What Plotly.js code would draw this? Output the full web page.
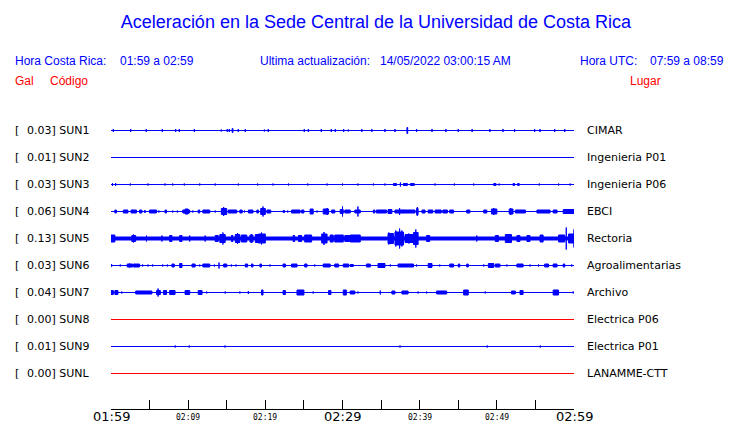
<!DOCTYPE html>
<html><head><meta charset="utf-8">
<script src="https://cdn.plot.ly/plotly-3.0.1.min.js"></script>
<style>html,body{margin:0;padding:0;background:#fff;}#chart{width:740px;height:423px;}</style>
</head><body><div id="chart"></div>
<script>
// ---------------- data ----------------
const codes  = ['SUN1','SUN2','SUN3','SUN4','SUN5','SUN6','SUN7','SUN8','SUN9','SUNL'];
const places = ['CIMAR','Ingenieria P01','Ingenieria P06','EBCI','Rectoria','Agroalimentarias','Archivo','Electrica P06','Electrica P01','LANAMME-CTT'];
const gals   = ['0.03','0.01','0.03','0.06','0.13','0.03','0.04','0.00','0.01','0.00'];
const tickMinutes = [0,10,20,30,40,50,60];
const tickLabels  = ['01:59','02:09','02:19','02:29','02:39','02:49','02:59'];
const minorTickMinutes = [0,5,10,15,20,25,30,35,40,45,50,55,60];

// bursts: [start minute, end minute, half-amplitude]
const SUN1_bursts = [[0.3,0.3,1.5],[2.55,2.55,1.5],[4.57,4.57,1.5],[6.65,6.65,1.5],[8.38,8.38,1.5],[8.85,8.85,1.5],[10.8,10.8,1.5],[14.29,14.29,1],[15.07,15.07,1.5],[15.33,15.33,1.5],[15.7,15.8,2],[16.49,16.49,1.5],[17.4,17.4,1.5],[19.87,19.87,1],[20.38,20.38,1.5],[25.05,25.05,1.5],[25.57,25.57,1.5],[27.25,27.25,1.5],[28.55,28.55,1.5],[29.07,29.07,1.5],[30.15,30.15,1.5],[30.75,30.75,1],[32.5,32.5,1.5],[33.8,33.8,1.5],[35.5,35.5,1.5],[36.8,36.8,1.5],[38.35,38.45,3],[39.6,39.6,1.5],[41.6,41.6,1.5],[43.4,43.4,1.5],[45.0,45.0,1.5],[46.8,46.8,1.5],[49.1,49.1,1.5],[50.8,50.8,1.5],[52.3,52.3,1.5],[54.9,54.9,1.5],[55.6,55.6,1.5],[57.5,57.5,1.5],[58.8,58.8,1.5]];
const SUN2_bursts = [];
const SUN3_bursts = [[0.2,0.2,1.5],[0.6,0.6,1.5],[2.5,2.5,1],[4.8,4.8,1],[7.0,7.0,1],[8.0,8.0,1],[9.5,9.5,1],[11.5,11.5,1],[13.5,13.5,1],[16.5,16.5,1],[19.0,19.0,1],[21.0,21.0,1],[23.0,23.0,1],[25.5,25.5,1],[28.0,28.0,1],[30.0,30.0,1],[32.0,32.0,1],[34.0,34.0,1],[35.5,35.5,1],[36.6,37.0,1],[37.5,37.5,2],[37.9,38.4,1],[38.8,39.3,1],[42.0,42.0,1],[44.5,44.5,1],[47.0,47.0,1],[49.6,49.9,1],[50.3,50.3,1],[52.1,52.3,1],[52.7,52.9,1],[55.5,55.5,1],[58.0,58.0,1],[59.5,59.5,1]];
const SUN4_bursts = [[0.5,0.7,1.5],[1.6,2.2,1.5],[2.6,3.3,1.5],[3.7,4.0,1.5],[4.4,4.4,1.5],[5.0,5.9,1.5],[6.2,6.2,1],[7.0,7.2,1.5],[8.0,8.0,1],[8.6,8.6,1],[9.3,10.2,1.5],[9.6,10.0,2.5],[10.6,10.6,1],[11.3,11.5,1.5],[11.9,12.8,1.5],[13.5,13.5,1],[14.3,15.0,3],[14.6,14.6,4.5],[15.2,16.3,1.5],[16.7,17.0,1.5],[17.3,17.3,1],[17.8,18.4,1.5],[18.9,19.1,1.5],[19.4,20.0,3],[19.7,19.7,5],[20.2,20.7,1.5],[22.3,22.5,1],[22.9,22.9,1],[23.4,24.5,1.5],[24.7,25.0,1.5],[25.8,26.2,2.5],[26.7,26.7,1],[27.5,28.2,2.5],[28.0,28.0,3.5],[28.6,29.0,1.5],[29.7,30.1,2],[30.0,30.0,5],[30.3,31.0,1.5],[31.6,32.3,1.5],[32.0,32.0,5],[34.0,34.2,1.5],[34.4,35.7,1.5],[35.9,36.4,2],[36.8,37.9,1.5],[37.4,37.4,3.5],[37.8,39.4,1.5],[39.6,39.8,3],[39.7,39.7,4.5],[40.3,40.7,1.5],[41.1,41.7,1.5],[42.0,42.8,1.5],[43.0,43.6,1.5],[43.9,44.4,1.5],[46.1,46.5,1.5],[48.3,48.7,1.5],[49.3,50.0,2.5],[49.6,49.6,3.5],[51.6,52.1,2.5],[51.8,51.8,3.5],[52.4,53.7,1.5],[55.2,56.9,1.5],[57.3,57.8,1.5],[58.6,60,2]];
const SUN5_bursts = [[0,0.5,3.5],[2.7,3.2,3],[2.9,2.9,4],[4.6,4.6,3],[6.6,6.6,3],[7.6,7.9,3],[8.9,9.2,3],[10.2,10.2,3],[12.2,12.2,3],[13.5,13.9,3],[14.1,14.8,4],[14.5,14.5,6],[15.6,15.8,3],[16.1,16.7,4],[16.4,16.4,5.5],[16.9,17.6,3.5],[18.0,18.4,3.5],[18.2,18.2,4.5],[18.7,19.1,4],[19.1,20.0,4.5],[19.5,19.5,6],[23.6,23.8,3],[24.3,24.7,3],[25.1,26.0,3.5],[27.3,28.0,4.5],[27.6,27.6,6.5],[28.4,28.8,3.5],[29.0,30.1,3.5],[30.3,31.0,3],[31.0,32.3,3.5],[35.9,36.6,5],[36.0,36.0,6],[36.8,37.9,6.5],[36.9,36.9,8],[37.4,37.4,10],[37.7,37.7,8],[38.1,39.2,4],[38.6,38.6,5],[39.2,39.8,6],[39.5,39.5,9],[40.9,41.3,3],[47.4,47.4,3],[49.8,50.2,3],[51.1,51.9,4],[52.6,53.0,3],[53.9,54.3,3],[55.6,56.0,3.5],[58.0,58.8,3.5],[59.0,59.0,11],[59.3,60,4.5],[60,60,9]];
const SUN6_bursts = [[0,0.1,1],[1.2,1.2,1],[2.1,2.8,1.5],[2.4,2.4,2],[2.9,3.7,1.5],[4.1,4.1,1],[4.8,4.8,1],[5.4,5.4,1],[6.7,6.7,1],[7.3,7.3,1],[7.9,8.2,1.5],[8.9,9.2,2],[10.5,10.9,1.5],[11.5,11.5,1],[11.9,12.8,1.5],[13.4,13.4,1],[14.0,14.0,3],[14.6,15.0,1.5],[15.6,15.6,1],[16.2,16.2,1],[17.4,17.7,1.5],[18.2,18.4,1.5],[19.3,19.5,1.5],[20.6,20.6,1],[22.3,22.6,1.5],[23.4,24.1,1.5],[25.1,25.4,1.5],[26.4,26.4,1],[27.5,28.4,1.5],[29.0,29.5,1.5],[30.1,30.8,1.5],[31.0,31.4,1],[33.1,33.6,1.5],[34.6,35.5,2],[36.2,36.2,1],[37.2,39.2,1.5],[39.6,39.6,1],[41.1,41.6,2],[42.6,42.6,1],[43.9,44.4,1.5],[45.0,45.2,1.5],[46.1,46.3,1.5],[48.3,48.3,1],[48.9,49.6,2],[49.8,50.4,1.5],[51.3,51.3,1],[52.6,53.4,1.5],[54.3,54.3,1],[55.4,55.4,1],[56.2,56.7,1.5],[57.3,57.8,1.5],[58.6,58.8,1.5],[59.7,59.7,1]];
const SUN7_bursts = [[0,0.3,2],[0.5,0.9,2],[1.4,1.4,1],[3.2,5.3,1.5],[5.9,6.4,2],[6.1,6.1,4],[6.8,7.2,2],[7.6,8.3,2],[9.6,10.2,2],[11.3,11.8,2],[12.4,12.4,1],[14.8,14.8,1],[16.7,16.7,1],[17.8,17.8,1.5],[19.5,19.7,2.5],[22.3,22.6,2],[24.1,25.0,2.5],[26.2,26.2,1],[28.2,28.5,2],[30.1,30.5,2.5],[31.0,31.6,1.5],[32.0,32.0,1],[34.9,34.9,2],[36.4,36.8,1.5],[37.7,38.5,1.5],[39.8,39.8,1],[40.9,40.9,1],[42.2,43.5,1.5],[45.7,46.3,2.5],[48.5,48.5,1],[51.9,52.4,1.5],[53.0,53.4,2],[57.3,58.0,2.5],[59.9,59.9,1]];
const SUN8_bursts = [];
const SUN9_bursts = [[8.33,8.33,1],[10.14,10.14,1],[14.77,14.77,1],[37.45,37.45,1],[48.76,48.76,1],[55.63,55.63,1]];
const SUNL_bursts = [];

// ---------------- styles ----------------
const allBursts = [SUN1_bursts,SUN2_bursts,SUN3_bursts,SUN4_bursts,SUN5_bursts,SUN6_bursts,SUN7_bursts,SUN8_bursts,SUN9_bursts,SUNL_bursts];
const traceColors = ['#0000ff','#0000ff','#0000ff','#0000ff','#0000ff','#0000ff','#0000ff','#ff0000','#0000ff','#ff0000'];
const baseWidths  = [1,1,1,1,4,1,1,1,1,1];
const bigTick = [true,false,false,true,false,false,true];
const ROW = 27;
const L = 111, R = 574, T = 103, B = 409;
const px2paper = p => (p - L) / (R - L);
const py2paper = p => (B - p) / (B - T);

const traces = [];
codes.forEach((c, i) => {
  const yc = -ROW * i;
  traces.push({x:[0,60], y:[yc,yc], mode:'lines', line:{color:traceColors[i], width:baseWidths[i]}, hoverinfo:'skip', showlegend:false});
  const bx = [], by = [];
  allBursts[i].forEach(b => {
    const [t0,t1,a] = b;
    bx.push(t0,t1,t1,t0,t0,null);
    by.push(yc-a,yc-a,yc+a,yc+a,yc-a,null);
  });
  if (bx.length) traces.push({x:bx, y:by, mode:'lines', fill:'toself', fillcolor:traceColors[i], line:{color:traceColors[i], width:1}, hoverinfo:'skip', showlegend:false});
});

const blue = '#0000ff', red = '#ff0000';
const hdrFont = {family:'Liberation Sans, Arial, sans-serif', size:12};
const ann = [];
function txt(text, xpx, ypx, font, anchor){
  ann.push({text, xref:'paper', yref:'paper', x:px2paper(xpx), y:py2paper(ypx), xanchor:anchor||'left', yanchor:'middle', showarrow:false, font, borderpad:0, borderwidth:0});
}
txt('Hora Costa Rica:', 15, 61, Object.assign({color:blue}, hdrFont));
txt('01:59 a 02:59', 120, 61, Object.assign({color:blue}, hdrFont));
txt('Ultima actualización:', 260, 61, Object.assign({color:blue}, hdrFont));
txt('14/05/2022 03:00:15 AM', 380, 61, Object.assign({color:blue}, hdrFont));
txt('Hora UTC:', 580, 61, Object.assign({color:blue}, hdrFont));
txt('07:59 a 08:59', 650, 61, Object.assign({color:blue}, hdrFont));
txt('Gal', 15, 81, Object.assign({color:red}, hdrFont));
txt('Código', 50, 81, Object.assign({color:red}, hdrFont));
txt('Lugar', 630, 81, Object.assign({color:red}, hdrFont));

const lblFont = {family:'DejaVu Sans, sans-serif', size:11, color:'#000'};
codes.forEach((c, i) => {
  const yp = 130 + ROW * i;
  txt('[', 15, yp, lblFont);
  txt(gals[i] + '] ' + c, 27, yp, lblFont);
  txt(places[i], 587, yp, lblFont);
});
tickMinutes.forEach((m, k) => {
  ann.push({text:tickLabels[k], xref:'x', yref:'paper', x:m, y:py2paper(416.5), xanchor:'center', yanchor:'middle', valign:'middle', height: bigTick[k] ? 13 : 10, showarrow:false, borderpad:0, borderwidth:0,
    font: bigTick[k] ? {family:'DejaVu Sans, sans-serif', size:13, color:'#000'} : {family:'DejaVu Sans Mono, monospace', size:8, color:'#000'}});
});

const layout = {
  width:740, height:423,
  margin:{l:L, r:740-R, t:T, b:423-B, pad:0},
  paper_bgcolor:'#fff', plot_bgcolor:'#fff',
  title:{text:'Aceleración en la Sede Central de la Universidad de Costa Rica', font:{family:'Liberation Sans, Arial, sans-serif', size:18, color:blue}, xref:'paper', x:px2paper(376), xanchor:'center', yref:'container', y:1-22/423, yanchor:'middle'},
  xaxis:{range:[0,60], showgrid:false, zeroline:false, showline:true, linecolor:'#000', linewidth:1, ticks:'inside', ticklen:9, tickwidth:1, tickcolor:'#000', tickmode:'array', tickvals:minorTickMinutes, showticklabels:false, fixedrange:true},
  yaxis:{range:[-278.5,27.5], visible:false, fixedrange:true},
  annotations:ann,
  showlegend:false
};
Plotly.newPlot('chart', traces, layout, {staticPlot:true, displayModeBar:false});
</script></body></html>
